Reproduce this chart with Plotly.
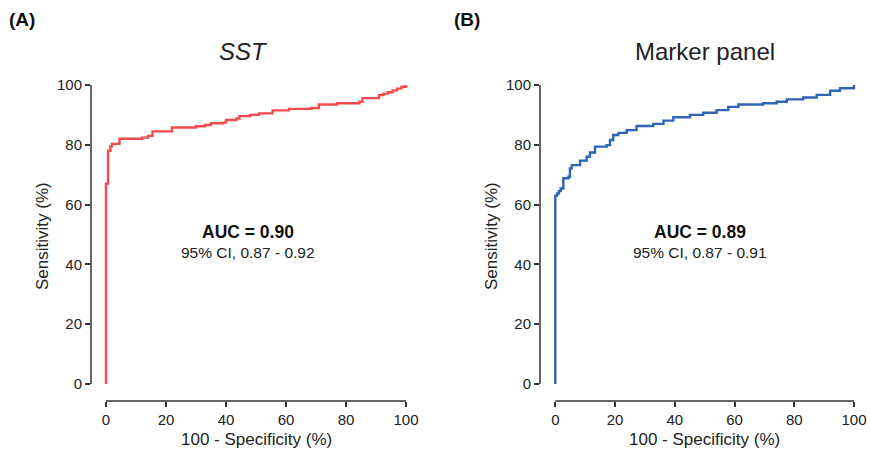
import plotly.graph_objects as go

# ROC step curves (100 - specificity %, sensitivity %)
sst_fpr = [0, 0, 0.7, 1.5, 2, 4.5, 12, 14, 15.5, 22, 30, 33, 35, 39, 40, 43.5, 44.5, 48, 51,
           55.5, 61, 68.5, 71, 77, 84.5, 85.5, 91, 92.5, 94, 95.5, 97, 98.5, 100]
sst_tpr = [0, 67, 78, 79.5, 80.3, 82, 82.4, 83, 84.5, 85.8, 86.2, 86.6, 87.2, 87.4, 88.3, 88.8,
           89.6, 90, 90.5, 91.5, 92, 92.3, 93.5, 93.9, 94.4, 95.6, 96.6, 97.1, 97.6, 98.2, 98.8, 99.4, 100]

mk_fpr = [0, 0, 0.6, 1.2, 1.8, 2.7, 4.4, 4.9, 5.5, 8.3, 10.5, 11.6, 13.3, 17.2, 18.3, 19.4, 21.1,
          23.9, 27.2, 32.8, 36.2, 39.5, 45.1, 49.5, 54, 57.9, 61.3, 69.6, 74.1, 77.5, 83,
          87.5, 92, 95.3, 100]
mk_tpr = [0, 63, 63.7, 64.5, 65.4, 68.8, 69.3, 72.1, 73.2, 74.7, 76, 77.4, 79.4, 79.9, 81.6,
          83.3, 84, 84.9, 86.3, 87, 88.1, 89.2, 90, 90.7, 91.6, 92.7, 93.5, 93.9, 94.4, 95.2,
          95.8, 96.7, 98.1, 98.9, 100]

panel_titles = ["SST", "Marker panel"]
panel_labels = ["(A)", "(B)"]
auc_text = ["AUC = 0.90", "AUC = 0.89"]
ci_text = ["95% CI, 0.87 - 0.92", "95% CI, 0.87 - 0.91"]
tick_vals = [0, 20, 40, 60, 80, 100]

FONT = "Arial, Liberation Sans, Helvetica, sans-serif"
AX = "#333333"
TXT = "#222222"
W, H = 870, 452

fig = go.Figure()
fig.add_trace(go.Scatter(x=sst_fpr, y=sst_tpr, mode="lines", line=dict(color="#F04C4B", width=2.4, shape="hv"),
                         xaxis="x", yaxis="y", showlegend=False, hoverinfo="skip"))
fig.add_trace(go.Scatter(x=mk_fpr, y=mk_tpr, mode="lines", line=dict(color="#2E63B5", width=2.4, shape="hv"),
                         xaxis="x2", yaxis="y2", showlegend=False, hoverinfo="skip"))

y_bot, y_top = 401, 80
ydom = [1 - y_bot / H, 1 - y_top / H]
ypx = 2.99
yrange = [-(y_bot - 384) / ypx, 100 + (384 - y_top - 100 * ypx) / ypx]

panels = [
    dict(ax0=91, x0=106, x100=406, title_cx=243, text_cx=248),
    dict(ax0=540, x0=555.3, x100=854, title_cx=704.5, text_cx=700),
]

axis_common = dict(showgrid=False, zeroline=False, showline=False, ticks="outside", ticklen=5,
                   tickwidth=1.5, tickcolor=AX, tickfont=dict(family=FONT, size=15, color=TXT),
                   tickvals=tick_vals, automargin=False)

layout_axes = {}
for i, p in enumerate(panels):
    xpx = (p["x100"] - p["x0"]) / 100
    xr = [-(p["x0"] - p["ax0"]) / xpx, 101]
    xr_right_px = p["x0"] + 101 * xpx
    xd = [p["ax0"] / W, xr_right_px / W]
    sx = "" if i == 0 else "2"
    layout_axes["xaxis" + sx] = dict(domain=xd, range=xr, anchor="y" + sx, **axis_common)
    layout_axes["yaxis" + sx] = dict(domain=ydom, range=yrange, anchor="x" + sx, **axis_common)

fig.update_layout(**layout_axes)

shapes = []
annotations = []
for i, p in enumerate(panels):
    sx = "" if i == 0 else "2"
    xr = "x" + sx
    yr = "y" + sx
    shapes.append(dict(type="line", xref=xr, yref=yr + " domain", x0=0, x1=100, y0=0, y1=0,
                       line=dict(color=AX, width=1.5)))
    shapes.append(dict(type="line", xref=xr + " domain", yref=yr, x0=0, x1=0, y0=0, y1=100,
                       line=dict(color=AX, width=1.5)))
    cx = (p["x0"] + p["x100"]) / 2 / W
    annotations.append(dict(text=panel_titles[i] if i else "<i>" + panel_titles[i] + "</i>",
                            x=p["title_cx"] / W, y=1 - 52 / H, xref="paper", yref="paper", showarrow=False,
                            font=dict(family=FONT, size=24, color=TXT), xanchor="center", yanchor="middle"))
    annotations.append(dict(text="<b>" + auc_text[i] + "</b>", x=p["text_cx"] / W, y=1 - 232 / H,
                            xref="paper", yref="paper",
                            showarrow=False, font=dict(family=FONT, size=17.5, color="#111111"),
                            xanchor="center", yanchor="middle"))
    annotations.append(dict(text=ci_text[i], x=p["text_cx"] / W, y=1 - 252 / H, xref="paper", yref="paper",
                            showarrow=False, font=dict(family=FONT, size=15.5, color=TXT),
                            xanchor="center", yanchor="middle"))
    annotations.append(dict(text="100 - Specificity (%)", x=cx, y=1 - 439 / H, xref="paper", yref="paper",
                            showarrow=False, font=dict(family=FONT, size=17, color=TXT),
                            xanchor="center", yanchor="middle"))
    annotations.append(dict(text="Sensitivity (%)", x=(p["ax0"] - 49) / W, y=1 - 236 / H, xref="paper",
                            yref="paper", showarrow=False, textangle=-90,
                            font=dict(family=FONT, size=17, color=TXT), xanchor="center", yanchor="middle"))

annotations.append(dict(text="<b>(A)</b>", x=7 / W, y=1 - 20 / H, xref="paper", yref="paper", showarrow=False,
                        font=dict(family=FONT, size=19, color="#111111"), xanchor="left", yanchor="middle"))
annotations.append(dict(text="<b>(B)</b>", x=452 / W, y=1 - 20 / H, xref="paper", yref="paper", showarrow=False,
                        font=dict(family=FONT, size=19, color="#111111"), xanchor="left", yanchor="middle"))

fig.update_layout(shapes=shapes, annotations=annotations, width=W, height=H,
                  margin=dict(l=0, r=0, t=0, b=0), paper_bgcolor="white", plot_bgcolor="white")

fig.write_html("out.html")
